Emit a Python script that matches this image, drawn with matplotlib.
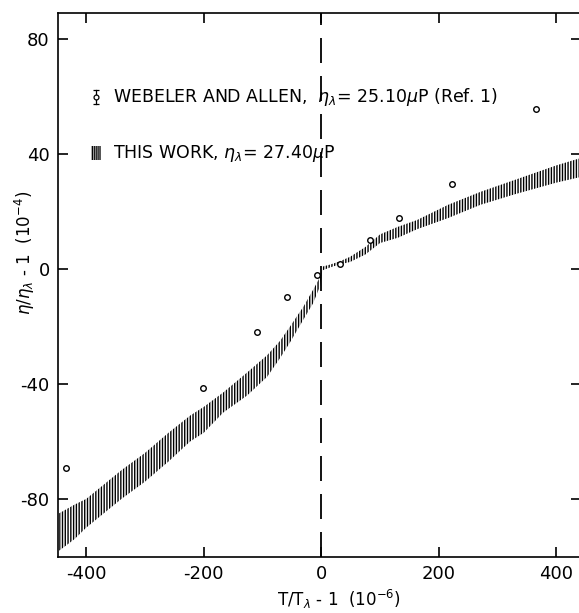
import matplotlib
matplotlib.use("Agg")
import matplotlib.pyplot as plt
from matplotlib.patches import Rectangle

# Webeler and Allen (Ref. 1), open circles
wa_x = [-434, -201, -109, -58, -8, 32, 83, 133, 223, 366]
wa_y = [-69.2, -41.4, -21.9, -9.8, -2.1, 1.7, 10.1, 17.7, 29.6, 55.6]

# this work: scatter band, lower and upper edge
band_x = [-446, -420, -400, -376, -340, -300, -260, -223, -200, -167, -126, -92,
          -70, -53, -30, -14, -2, 2, 15, 30, 49, 75, 100, 130, 163, 216, 271,
          330, 400, 442]
band_lo = [-98, -94, -90, -86, -80, -74, -67, -60, -57, -50, -44, -37.5,
           -31, -25.5, -17.5, -12, -6, -0.5, 0.5, 1.5, 2.4, 5, 9, 10.8, 13.8,
           17.7, 22.3, 26, 30, 32]
band_hi = [-85, -82, -80, -76, -70, -64, -57, -51, -48, -43, -36, -30,
           -25, -20, -13, -7.3, -2.8, 0.8, 1.5, 2.5, 4.2, 7.6, 12, 14.6, 17,
           22.3, 26.8, 31, 36, 38.6]

x_ticks = [-400, -200, 0, 200, 400]
y_ticks = [-80, -40, 0, 40, 80]

plt.rcParams["axes.unicode_minus"] = False
plt.rcParams["hatch.linewidth"] = 1.0
plt.rcParams["lines.scale_dashes"] = False

W, H = 579, 613
fig = plt.figure(figsize=(W / 100, H / 100), dpi=100)
ax = fig.add_axes([58 / W, (H - 557) / H, (581 - 58) / W, (557 - 13) / H])
ax.set_xlim(-448, 442)
ax.set_ylim(-100.2, 89)

ax.fill_between(band_x, band_lo, band_hi, facecolor="none", edgecolor="black",
                linewidth=0, hatch="||||||")
ax.plot(wa_x, wa_y, "o", ms=4, mfc="white", mec="black", mew=1.0, zorder=3)

ax.axvline(0, color="black", lw=1.3, dashes=(25 * 0.72, 13 * 0.72))

for s in ax.spines.values():
    s.set_linewidth(1.2)
ax.set_xticks(x_ticks)
ax.set_yticks(y_ticks)
ax.tick_params(direction="in", length=7, width=1.2, top=True, right=True,
               labelsize=13, pad=6)

ax.set_xlabel(r"T/T$_\lambda$ - 1  (10$^{-6}$)", fontsize=12)
ax.xaxis.label.set_va("center")
ax.xaxis.set_label_coords(0.537, -0.078)
ax.set_ylabel(r"$\eta/\eta_\lambda$ - 1  (10$^{-4}$)", fontsize=12)
ax.yaxis.label.set_va("center")
ax.yaxis.set_label_coords(-0.063, 0.56)

# legend drawn by hand
lx, ly1, ly2 = 0.0727, 0.8456, 0.7426
ax.plot([lx, lx], [ly1 - 0.012, ly1 + 0.012], color="black", lw=0.9,
        transform=ax.transAxes)
ax.plot([lx, lx], [ly1 - 0.012, ly1 + 0.012], "_", color="black", ms=5,
        mew=0.9, transform=ax.transAxes)
ax.plot([lx], [ly1], "o", ms=3.5, mfc="white", mec="black", mew=0.9,
        transform=ax.transAxes)
ax.add_patch(Rectangle((lx - 0.009, ly2 - 0.012), 0.018, 0.024,
                       transform=ax.transAxes, facecolor="none",
                       edgecolor="black", linewidth=0, hatch="||||||||"))
ax.text(0.105, ly1, r"WEBELER AND ALLEN,  $\eta_\lambda$= 25.10$\mu$P (Ref. 1)",
        transform=ax.transAxes, fontsize=12.5, va="center", ha="left")
ax.text(0.105, ly2, r"THIS WORK, $\eta_\lambda$= 27.40$\mu$P",
        transform=ax.transAxes, fontsize=12.5, va="center", ha="left")

fig.savefig("out.png", dpi=100, facecolor="white")
